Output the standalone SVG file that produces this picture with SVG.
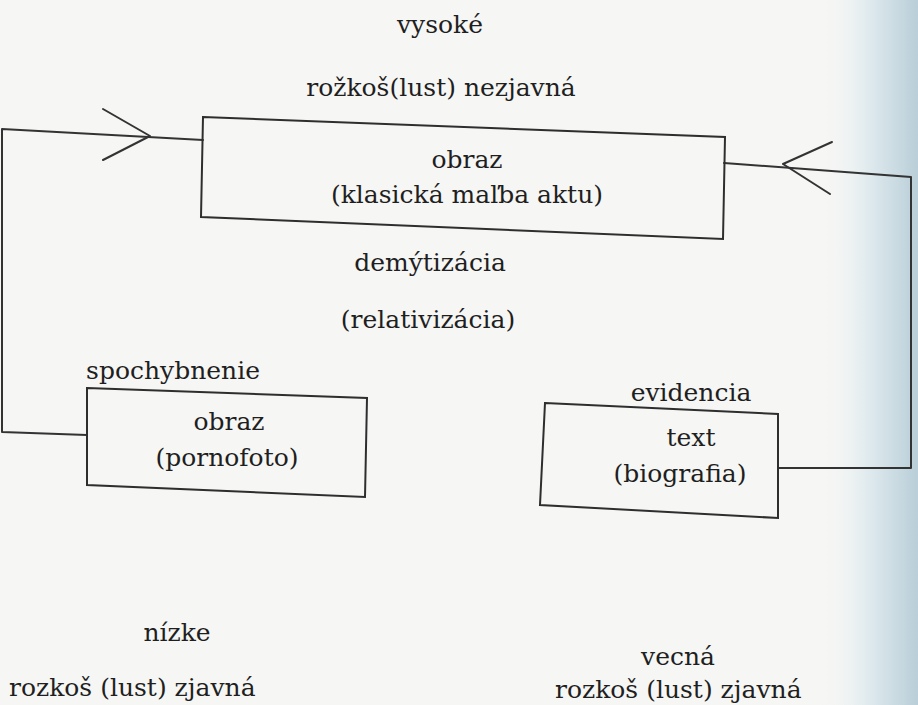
<svg xmlns="http://www.w3.org/2000/svg" width="918" height="705" viewBox="0 0 918 705">
<defs>
<linearGradient id="edge" x1="0" y1="0" x2="1" y2="0">
<stop offset="0" stop-color="#f6f7f6" stop-opacity="0"/>
<stop offset="0.5" stop-color="#dfeaee"/>
<stop offset="1" stop-color="#b9ced8"/>
</linearGradient>
<style>
text{font-family:'DejaVu Serif','Liberation Serif',serif;font-size:25px;fill:#1f1f1f}
.m{text-anchor:middle}
.box{fill:none;stroke:#2e2e2e;stroke-width:2}
.ln{fill:none;stroke:#333;stroke-width:2;stroke-linecap:round;stroke-linejoin:round}
</style>
</defs>
<rect width="918" height="705" fill="#f6f6f4"/>
<rect x="820" y="0" width="98" height="705" fill="url(#edge)"/>

<g id="connectors">
<polyline class="ln" points="203,140 2,129 2,432 87,435"/>
<polyline class="ln" points="103,109 150,136 103,160"/>
<polyline class="ln" points="724,163 911,177 911,468 778,468"/>
<polyline class="ln" points="832,142 783,164 830,194"/>
</g>

<g id="top-labels">
<text class="m" x="440" y="33">vysoké</text>
<text class="m" x="441" y="96">rožkoš(lust) nezjavná</text>
</g>

<g id="node-klasicka">
<polygon class="box" points="203,117 725,137 723,239 201,217"/>
<text class="m" x="467" y="168">obraz</text>
<text class="m" x="467" y="203">(klasická maľba aktu)</text>
</g>

<g id="mid-labels">
<text class="m" x="430" y="271">demýtizácia</text>
<text class="m" x="428" y="328">(relativizácia)</text>
</g>

<g id="node-pornofoto">
<text class="m" x="173" y="379">spochybnenie</text>
<polygon class="box" points="87,388 367,398 365,497 87,485"/>
<text class="m" x="229" y="430">obraz</text>
<text class="m" x="227" y="466">(pornofoto)</text>
</g>

<g id="node-biografia">
<text class="m" x="691" y="401">evidencia</text>
<polygon class="box" points="545,403 778,414 778,518 540,505"/>
<text class="m" x="691" y="446">text</text>
<text class="m" x="680" y="482">(biografia)</text>
</g>

<g id="bottom-labels">
<text class="m" x="177" y="641">nízke</text>
<text x="9" y="696">rozkoš (lust) zjavná</text>
<text class="m" x="678" y="665" fill="#444">vecná</text>
<text x="555" y="698">rozkoš (lust) zjavná</text>
</g>
</svg>
